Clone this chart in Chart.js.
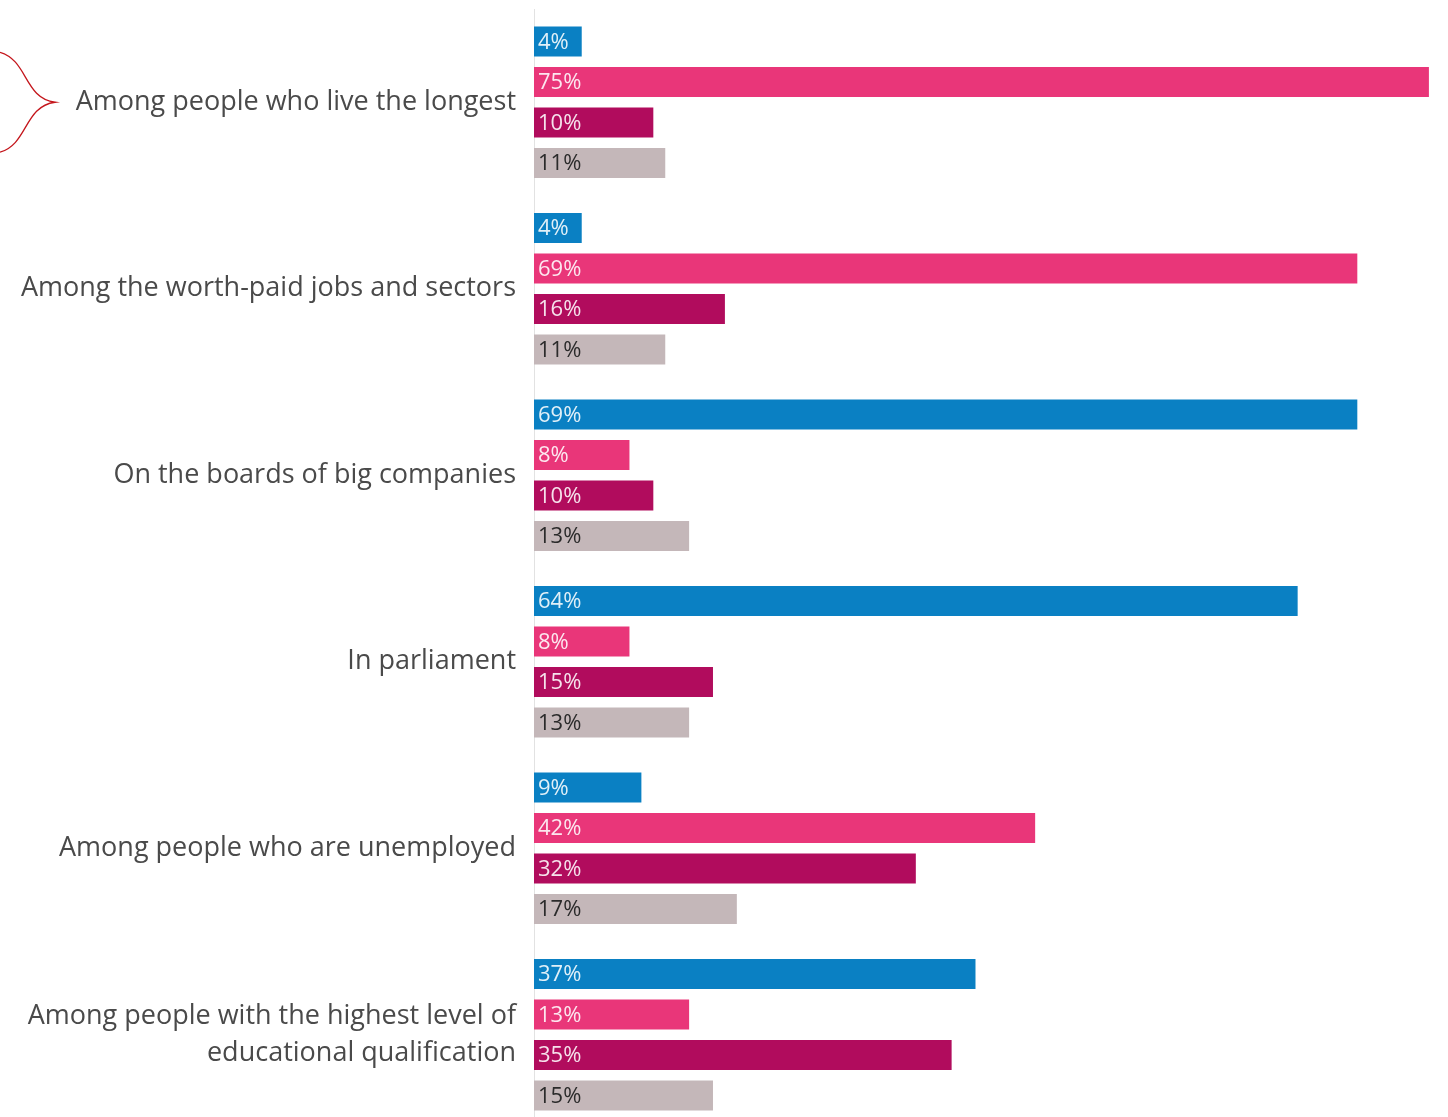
<!DOCTYPE html>
<html lang="en">
<head>
  <meta charset="UTF-8" />
  <title>Where women and men are</title>
  <script src="https://cdn.jsdelivr.net/npm/chart.js"></script>
  <style>
    html, body { margin: 0; padding: 0; background: #fff; overflow: hidden; }
  </style>
</head>
<body>
  <canvas id="barChart" width="1448" height="1140"></canvas>

  <script>
    const categories = [
      "Among people who live the longest",
      "Among the worth-paid jobs and sectors",
      "On the boards of big companies",
      "In parliament",
      "Among people who are unemployed",
      ["Among people with the highest level of", "educational qualification"]
    ];
    const blueValues = [4, 4, 69, 64, 9, 37];
    const pinkValues = [75, 69, 8, 8, 42, 13];
    const magentaValues = [10, 16, 10, 15, 32, 35];
    const greyValues = [11, 11, 13, 13, 17, 15];

    const colors = ["#0a80c3", "#e93679", "#b10c5d", "#c4b7b9"];
    const labelColors = ["rgba(255,255,255,0.88)", "rgba(255,255,255,0.88)", "rgba(255,255,255,0.88)", "#2b2b2b"];

    // value labels drawn at the start of each bar
    const insideLabels = {
      id: "insideLabels",
      afterDatasetsDraw(chart) {
        const ctx = chart.ctx;
        ctx.save();
        ctx.font = "22px 'Open Sans'";
        ctx.textBaseline = "middle";
        ctx.textAlign = "left";
        chart.data.datasets.forEach((ds, i) => {
          chart.getDatasetMeta(i).data.forEach((bar, j) => {
            ctx.fillStyle = labelColors[i];
            ctx.fillText(ds.data[j] + "%", bar.base + 4, bar.y + 1);
          });
        });
        ctx.restore();
      }
    };

    // red curly brace next to the first label
    const brace = {
      id: "brace",
      afterDraw(chart) {
        const ctx = chart.ctx;
        const y = chart.scales.y.getPixelForValue(0);
        ctx.save();
        ctx.strokeStyle = "#c4161c";
        ctx.lineWidth = 1.3;
        ctx.beginPath();
        ctx.moveTo(0, y - 50);
        ctx.bezierCurveTo(28, y - 42, 24, y - 4, 55, y);
        ctx.bezierCurveTo(24, y + 4, 28, y + 42, 0, y + 50);
        ctx.stroke();
        ctx.restore();
      }
    };

    new Chart(document.getElementById("barChart").getContext("2d"), {
      type: "bar",
      data: {
        labels: categories,
        datasets: [
          { label: "Blue", data: blueValues, backgroundColor: colors[0] },
          { label: "Pink", data: pinkValues, backgroundColor: colors[1] },
          { label: "Magenta", data: magentaValues, backgroundColor: colors[2] },
          { label: "Grey", data: greyValues, backgroundColor: colors[3] }
        ]
      },
      options: {
        indexAxis: "y",
        responsive: false,
        animation: false,
        categoryPercentage: 0.87,
        barPercentage: 0.74,
        layout: { padding: { top: 9, bottom: 12, left: 0, right: 0 } },
        plugins: {
          legend: { display: false },
          tooltip: { enabled: false }
        },
        scales: {
          x: {
            display: false,
            min: 0,
            max: 76.6
          },
          y: {
            grid: { display: false, drawTicks: false },
            border: { display: true, color: "#e2e2e2", width: 1 },
            afterFit(scale) {
              scale.width = 534;
              scale.paddingTop = 0;
              scale.paddingBottom = 0;
            },
            ticks: {
              padding: 18,
              color: "#4a4a4a",
              font: { family: "'Open Sans'", size: 27, lineHeight: 1.4 }
            }
          }
        }
      },
      plugins: [insideLabels, brace]
    });
  </script>
</body>
</html>
